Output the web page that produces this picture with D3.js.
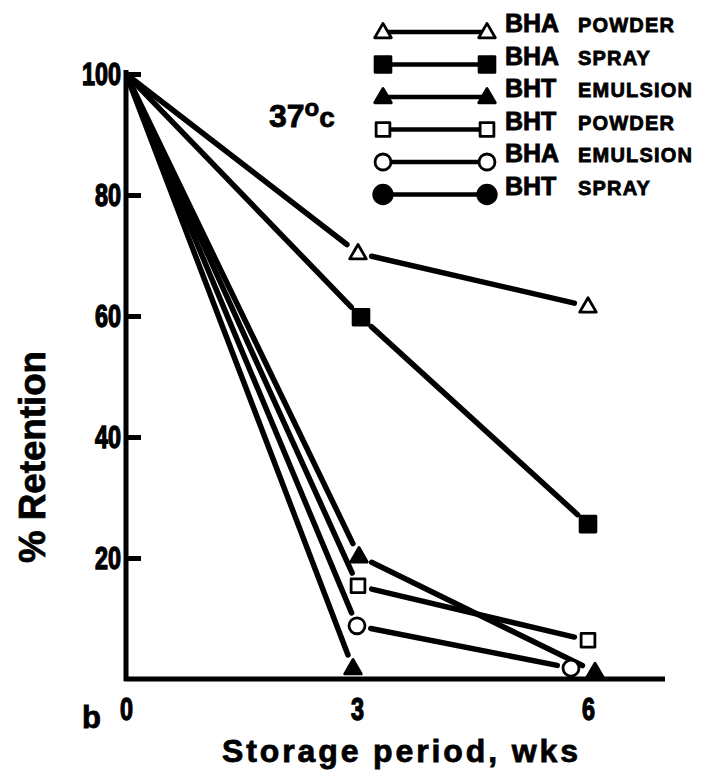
<!DOCTYPE html>
<html>
<head>
<meta charset="utf-8">
<script src="https://cdn.jsdelivr.net/npm/d3@7"></script>
<style>
  html, body { margin: 0; padding: 0; background: #fff; }
  svg { display: block; }
  .tick-label { font-family: "Liberation Sans", Arial, sans-serif; font-weight: bold; stroke: #000; stroke-width: 1.4px; }
  .title { font-family: "Liberation Sans", Arial, sans-serif; font-weight: bold; fill: #000; stroke: #000; stroke-width: 0.8px; }
</style>
</head>
<body>
<script>
// retention of antioxidants at 37 C
var weeks = [0, 3, 6];
var yTicks = [20, 40, 60, 80, 100];
var xTicks = [0, 3, 6];

var bhaPowder   = [100, 70.4, 61.6];
var bhaSpray    = [100, 59.8, 25.6];
var bhtEmulsion = [100, 20.3, 1.2];
var bhtPowder   = [100, 15.4, 6.4];
var bhaEmulsion = [100, 8.8, 1.8];
var bhtSpray    = [100, 1.8, null];

var seriesNames = [["BHA", "POWDER"], ["BHA", "SPRAY"], ["BHT", "EMULSION"],
                   ["BHT", "POWDER"], ["BHA", "EMULSION"], ["BHT", "SPRAY"]];
var seriesValues = [bhaPowder, bhaSpray, bhtEmulsion, bhtPowder, bhaEmulsion, bhtSpray];

// marker look per series (legend shape, and shape used on the plot)
var markers = [
  {shape: "triangle", filled: false},
  {shape: "square", filled: true},
  {shape: "triangle", filled: true},
  {shape: "square", filled: false},
  {shape: "circle", filled: false},
  {shape: "circle", filled: true, plotShape: "triangle"}
];
// small horizontal shifts (px) so overlapping points stay readable, as printed
var nudges = [[0, 1, 0], [0, 4, 0], [0, 2, 7], [0, 1, 0], [0, 0, -17], [0, -4, 0]];

var W = 701, H = 775;
var svg = d3.select("body").append("svg").attr("width", W).attr("height", H);

var x = d3.scaleLinear().domain([0, 7]).range([126, 665]);
var y = d3.scaleLinear().domain([0, 100]).range([679, 74]);

function symbolFor(shape, big) {
  var s = {triangle: d3.symbolTriangle, square: d3.symbolSquare, circle: d3.symbolCircle}[shape];
  var size = {triangle: 120, square: 190, circle: 200}[shape];
  if (big && shape == "square") size = 250;
  if (big && shape == "circle") size = 270;
  return d3.symbol().type(s).size(size)();
}

function drawMarker(g, shape, filled, cx, cy) {
  var dy = shape == "triangle" ? 1 : 0;
  g.append("path")
    .attr("d", symbolFor(shape, filled))
    .attr("transform", "translate(" + cx + "," + (cy + dy) + ")")
    .attr("fill", filled ? "#000" : "#fff")
    .attr("stroke", "#000")
    .attr("stroke-width", 2.8)
    .attr("stroke-linejoin", "round");
}

// axes
var yAxis = d3.axisLeft(y).tickValues(yTicks).tickSize(-15).tickPadding(5).tickFormat(d3.format("d"));
var xAxis = d3.axisBottom(x).tickValues(xTicks).tickSize(0).tickPadding(17).tickFormat(d3.format("d"));

var gy = svg.append("g").attr("transform", "translate(126,0)").call(yAxis);
var gx = svg.append("g").attr("transform", "translate(0,679)").call(xAxis);

[gy, gx].forEach(function(g) {
  g.select(".domain").remove();
  g.selectAll(".tick line").attr("stroke", "#000").attr("stroke-width", 5);
  g.selectAll(".tick text").attr("class", "tick-label").attr("fill", "#000")
    .style("font-size", "32px")
    .attr("textLength", function(d) { return String(d).length * 13; })
    .attr("lengthAdjust", "spacingAndGlyphs");
});
gx.selectAll(".tick text").attr("dy", "0.74em");

svg.append("line").attr("x1", 126).attr("x2", 126).attr("y1", 681).attr("y2", 70)
  .attr("stroke", "#000").attr("stroke-width", 5);
svg.append("line").attr("x1", 124).attr("x2", 665).attr("y1", 679).attr("y2", 679)
  .attr("stroke", "#000").attr("stroke-width", 5);

// data lines, broken short of the markers
var plot = svg.append("g");
var gap = 14;
seriesValues.forEach(function(vals, i) {
  var pts = [];
  vals.forEach(function(v, j) {
    if (v == null) return;
    pts.push({x: x(weeks[j]) + nudges[i][j], y: y(v), marked: j > 0});
  });
  for (var k = 0; k < pts.length - 1; k++) {
    var a = pts[k], b = pts[k + 1];
    var dx = b.x - a.x, dy = b.y - a.y, len = Math.sqrt(dx * dx + dy * dy);
    var ga = a.marked ? gap : 2, gb = b.marked ? gap : 0;
    plot.append("line")
      .attr("x1", a.x + dx * ga / len).attr("y1", a.y + dy * ga / len)
      .attr("x2", b.x - dx * gb / len).attr("y2", b.y - dy * gb / len)
      .attr("stroke", "#000").attr("stroke-width", 5.5).attr("stroke-linecap", "round");
  }
  pts.forEach(function(p) {
    if (!p.marked) return;
    drawMarker(plot, markers[i].plotShape || markers[i].shape, markers[i].filled, p.x, p.y);
  });
});

// legend
var legend = svg.append("g");
seriesNames.forEach(function(nm, i) {
  var ly = 32 + i * 32.5;
  var row = legend.append("g");
  row.append("line").attr("x1", 383).attr("x2", 487).attr("y1", ly).attr("y2", ly)
    .attr("stroke", "#000").attr("stroke-width", 4.5);
  drawMarker(row, markers[i].shape, markers[i].filled, 383, ly);
  drawMarker(row, markers[i].shape, markers[i].filled, 487, ly);
  row.append("text").attr("class", "title").attr("x", 505).attr("y", ly)
    .style("font-size", "25px").text(nm[0]);
  row.append("text").attr("class", "title").attr("x", 578).attr("y", ly)
    .style("font-size", "20px").style("letter-spacing", "1.2px").text(nm[1]);
});

// temperature tag
var temp = svg.append("text").attr("class", "title").attr("x", 269).attr("y", 127).style("font-size", "32px");
temp.append("tspan").text("37");
temp.append("tspan").attr("dy", -11).style("font-size", "24px").text("o");
temp.append("tspan").attr("dy", 11).style("font-size", "28px").text("c");

// axis titles and panel letter
svg.append("text").attr("class", "title")
  .attr("transform", "translate(45,457) rotate(-90)")
  .attr("text-anchor", "middle").style("font-size", "36px")
  .attr("textLength", 212).attr("lengthAdjust", "spacingAndGlyphs")
  .text("% Retention");

svg.append("text").attr("class", "title")
  .attr("x", 222).attr("y", 762).style("font-size", "32px")
  .attr("textLength", 356).attr("lengthAdjust", "spacing")
  .text("Storage period, wks");

svg.append("text").attr("class", "title").attr("x", 82).attr("y", 728)
  .style("font-size", "31px").text("b");
</script>
</body>
</html>
